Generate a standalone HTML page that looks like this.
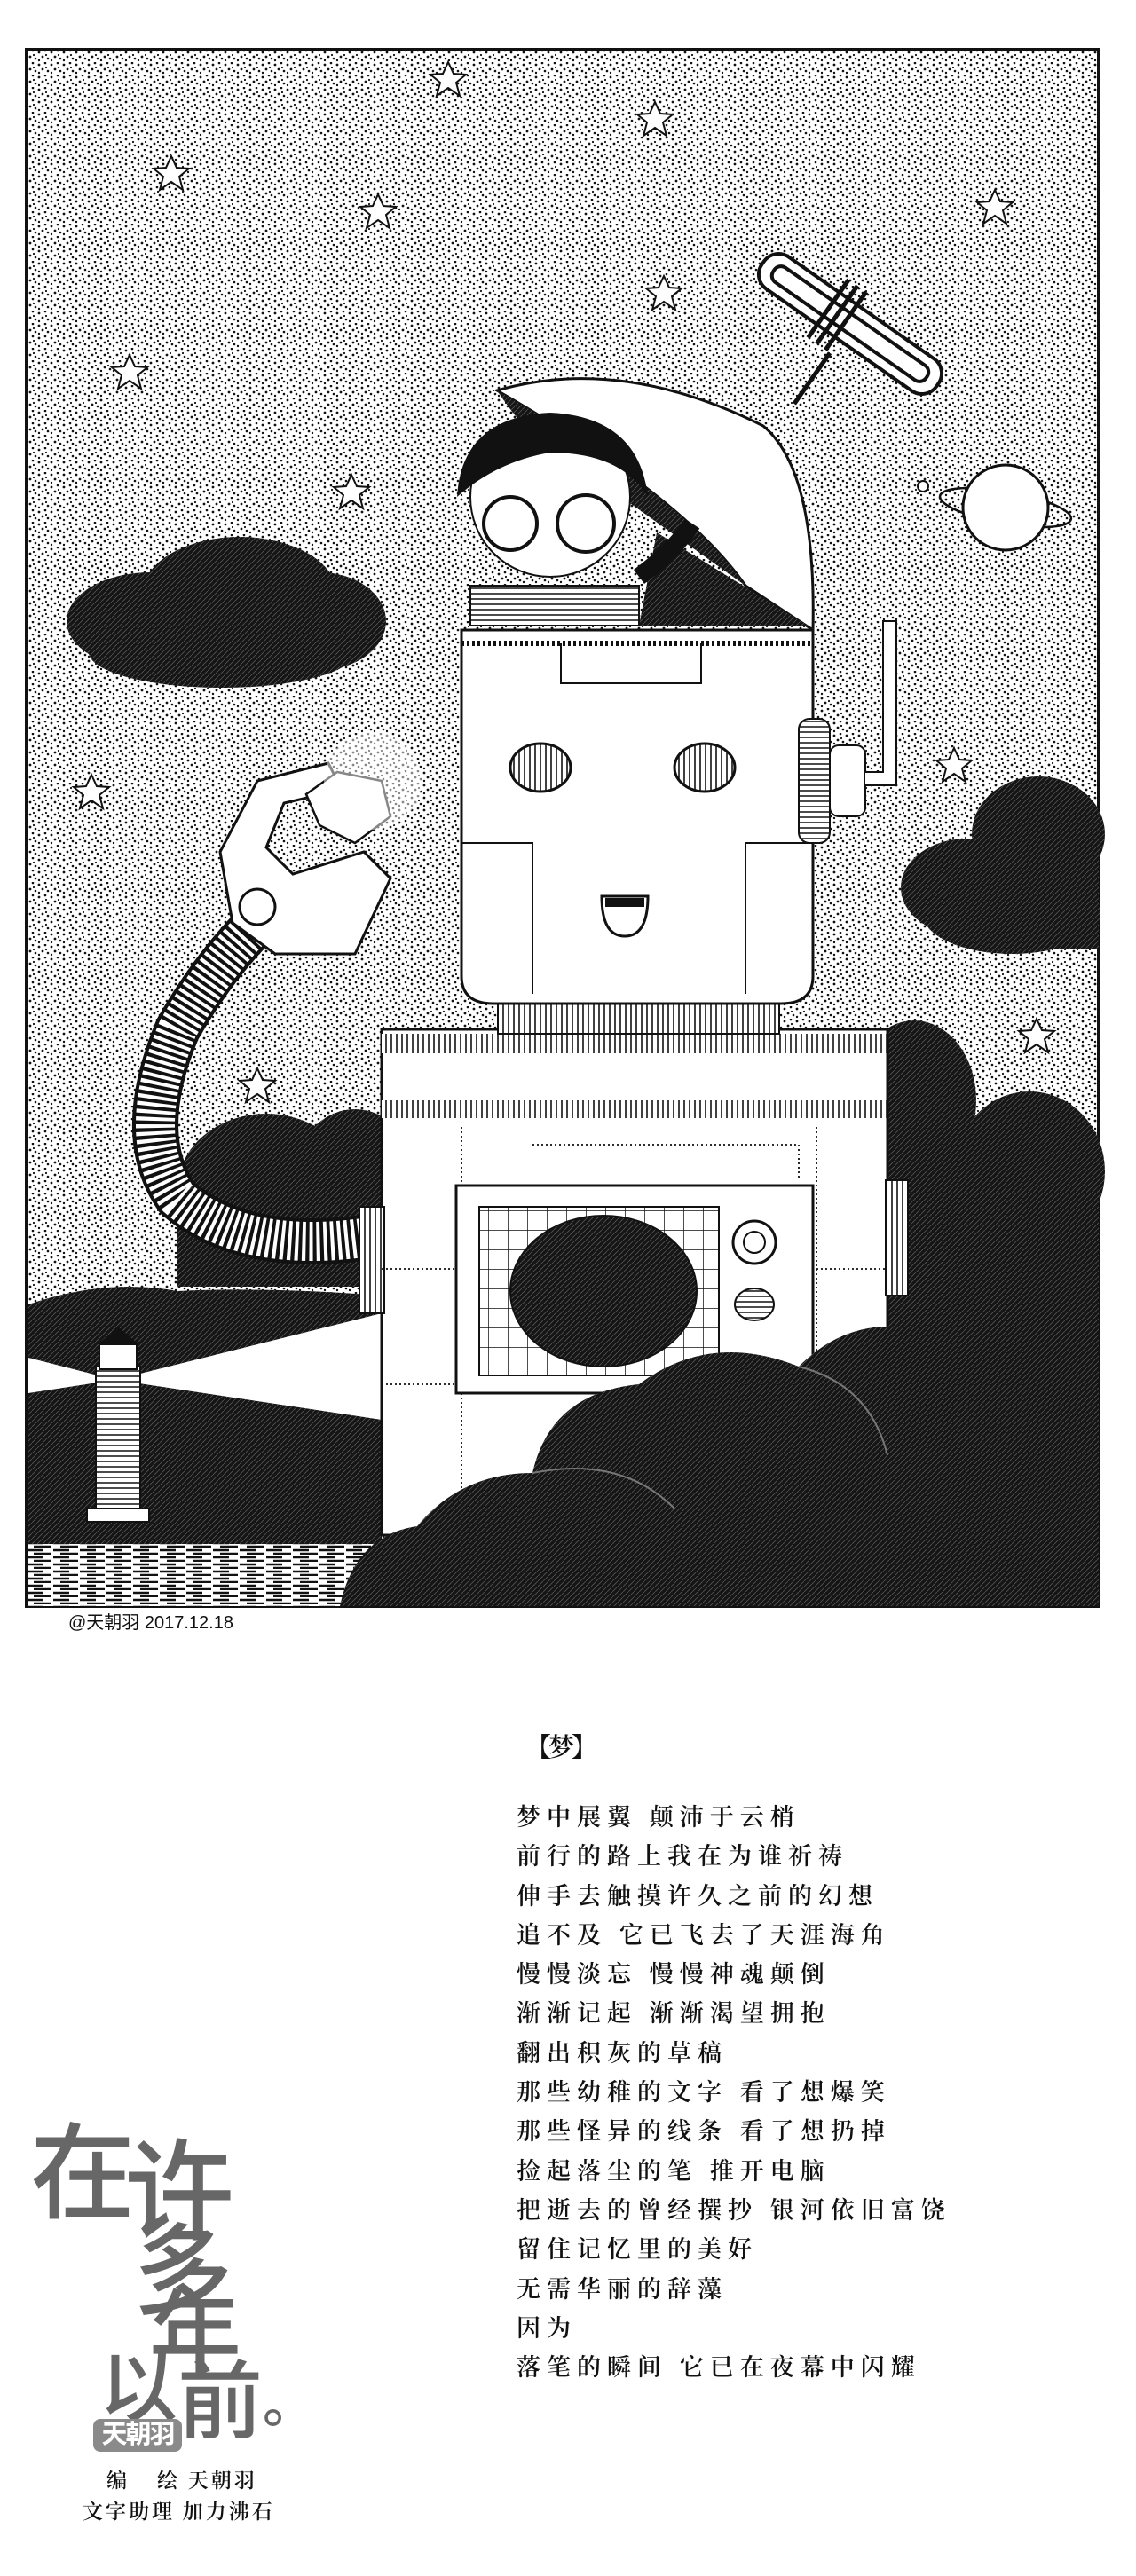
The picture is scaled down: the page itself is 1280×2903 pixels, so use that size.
<!DOCTYPE html>
<html><head><meta charset="utf-8"><style>
html,body{margin:0;padding:0;background:#fff}
body{width:1280px;height:2903px;position:relative;overflow:hidden;font-family:"Liberation Serif","Noto Serif CJK SC",serif;color:#111}
.a{position:absolute;white-space:nowrap}
.poem{position:absolute;left:582px;top:2026px;font-size:27px;line-height:44.3px;letter-spacing:7px;font-weight:600;font-family:"Liberation Serif","Noto Serif CJK SC",serif}
.cal{position:absolute;color:#676767;font-family:"Liberation Sans","Noto Sans CJK SC",sans-serif;font-weight:500;line-height:1}
</style></head><body>
<svg class="a" style="left:0;top:0" width="1280" height="1850" viewBox="0 0 1280 1850">
<defs>
<pattern id="st" width="14" height="14" patternUnits="userSpaceOnUse">
<rect width="14" height="14" fill="#fff"/>
<circle cx="2" cy="3" r="1.4" fill="#111"/><circle cx="9" cy="1" r="1.3" fill="#111"/>
<circle cx="6" cy="8" r="1.4" fill="#111"/><circle cx="12" cy="10" r="1.3" fill="#111"/>
<circle cx="2" cy="12" r="1.2" fill="#111"/><circle cx="10" cy="6" r="1.1" fill="#111"/>
</pattern>
<pattern id="dk" width="6" height="6" patternUnits="userSpaceOnUse">
<rect width="6" height="6" fill="#151515"/><path d="M0 6L6 0" stroke="#555" stroke-width="0.8"/>
</pattern>
<pattern id="wt" width="30" height="8" patternUnits="userSpaceOnUse">
<rect width="30" height="8" fill="#fff"/><path d="M0 3H18M8 7H28" stroke="#111" stroke-width="2.4"/>
</pattern>
<pattern id="hz" width="6" height="6" patternUnits="userSpaceOnUse">
<rect width="6" height="6" fill="#fff"/><path d="M0 3H6" stroke="#111" stroke-width="1.5"/>
</pattern>
<pattern id="vt" width="6" height="6" patternUnits="userSpaceOnUse">
<rect width="6" height="6" fill="#fff"/><path d="M3 0V6" stroke="#111" stroke-width="1.6"/>
</pattern>
<pattern id="gr" width="22" height="22" patternUnits="userSpaceOnUse">
<rect width="22" height="22" fill="#fff"/><path d="M0 0H22M0 0V22" stroke="#111" stroke-width="1.5"/>
</pattern>
<g id="star"><polygon points="0,-20 6,-7 20,-6 9,3 13,18 0,9 -13,18 -9,3 -20,-6 -6,-7" fill="#fff" stroke="#111" stroke-width="2"/></g>
</defs>
<rect x="30" y="56" width="1208" height="1754" fill="url(#st)" stroke="#111" stroke-width="4"/>
<use href="#star" x="505" y="90"/><use href="#star" x="738" y="135"/><use href="#star" x="193" y="196"/>
<use href="#star" x="426" y="239"/><use href="#star" x="1121" y="234"/><use href="#star" x="748" y="331"/>
<use href="#star" x="146" y="420"/><use href="#star" x="396" y="555"/><use href="#star" x="103" y="893"/>
<use href="#star" x="1075" y="863"/><use href="#star" x="290" y="1224"/><use href="#star" x="1168" y="1168"/>
<g fill="url(#dk)">
<ellipse cx="170" cy="700" rx="95" ry="55"/><ellipse cx="270" cy="670" rx="110" ry="65"/><ellipse cx="360" cy="700" rx="75" ry="55"/><ellipse cx="250" cy="735" rx="150" ry="40"/>
<ellipse cx="1090" cy="1000" rx="75" ry="55"/><ellipse cx="1170" cy="940" rx="75" ry="65"/><ellipse cx="1140" cy="1030" rx="100" ry="45"/><rect x="1150" y="920" width="88" height="150"/>
<ellipse cx="1030" cy="1240" rx="70" ry="90"/><ellipse cx="1160" cy="1320" rx="85" ry="90"/><rect x="980" y="1280" width="258" height="260"/>
<ellipse cx="300" cy="1340" rx="100" ry="85"/><ellipse cx="400" cy="1330" rx="70" ry="80"/><rect x="200" y="1330" width="240" height="120"/>
<path d="M32 1470 Q120 1440 200 1455 Q300 1450 430 1460 L430 1740 L32 1740Z"/>
</g>
<polygon points="130,1555 430,1480 430,1600" fill="#fff"/>
<polygon points="130,1555 32,1530 32,1570" fill="#fff"/>
<rect x="32" y="1740" width="390" height="70" fill="url(#wt)"/>
<rect x="108" y="1540" width="50" height="175" fill="url(#hz)" stroke="#111" stroke-width="2"/>
<rect x="112" y="1515" width="42" height="28" fill="#fff" stroke="#111" stroke-width="2"/>
<polygon points="110,1515 133,1495 156,1515" fill="#111"/>
<rect x="98" y="1700" width="70" height="15" fill="#fff" stroke="#111" stroke-width="2"/>
<path d="M440 1390 Q280 1420 200 1350 Q150 1280 200 1160 Q240 1090 290 1040" fill="none" stroke="#111" stroke-width="52"/>
<path d="M440 1390 Q280 1420 200 1350 Q150 1280 200 1160 Q240 1090 290 1040" fill="none" stroke="#fff" stroke-width="44" stroke-dasharray="4 4"/>
<polygon points="248,960 290,880 370,860 385,890 320,905 300,955 330,985 410,960 440,990 400,1075 310,1075 262,1040" fill="#fff" stroke="#111" stroke-width="3"/>
<circle cx="290" cy="1022" r="20" fill="#fff" stroke="#111" stroke-width="3"/>
<polygon points="345,895 380,870 430,880 440,920 400,950 360,930" fill="#fff" stroke="#111" stroke-width="2.5"/>
<circle cx="420" cy="880" r="55" fill="#fff" opacity="0.5"/>
<rect x="430" y="1160" width="570" height="570" fill="#fff" stroke="#111" stroke-width="3"/>
<rect x="430" y="1165" width="570" height="22" fill="url(#vt)"/>
<rect x="430" y="1240" width="570" height="20" fill="url(#vt)"/>
<rect x="405" y="1360" width="28" height="120" fill="url(#vt)" stroke="#111" stroke-width="2"/>
<rect x="998" y="1330" width="25" height="130" fill="url(#vt)" stroke="#111" stroke-width="2"/>
<path d="M520 1270V1720M920 1270V1720M430 1430H520M920 1430H1000M430 1560H520M920 1560H1000M600 1290H900V1330" fill="none" stroke="#111" stroke-width="1.8" stroke-dasharray="2 3"/>
<rect x="514" y="1336" width="402" height="234" fill="#fff" stroke="#111" stroke-width="3"/>
<rect x="540" y="1360" width="270" height="190" fill="url(#gr)" stroke="#111" stroke-width="2"/>
<ellipse cx="680" cy="1455" rx="105" ry="85" fill="url(#dk)" stroke="#111" stroke-width="2"/>
<circle cx="850" cy="1400" r="24" fill="#fff" stroke="#111" stroke-width="3"/><circle cx="850" cy="1400" r="12" fill="none" stroke="#111" stroke-width="2"/>
<ellipse cx="850" cy="1470" rx="22" ry="18" fill="url(#hz)" stroke="#111" stroke-width="2"/>
<rect x="561" y="1120" width="317" height="45" fill="url(#vt)" stroke="#111" stroke-width="2"/>
<path d="M520 710 H916 V1100 Q916 1131 880 1131 H556 Q520 1131 520 1100Z" fill="#fff" stroke="#111" stroke-width="3"/>
<path d="M520 725H916" stroke="#111" stroke-width="6" stroke-dasharray="3 3"/>
<path d="M632 725V770H790V725M520 950H600V1120M916 950H840V1120" fill="none" stroke="#111" stroke-width="2"/>
<ellipse cx="609" cy="865" rx="34" ry="27" fill="url(#vt)" stroke="#111" stroke-width="3"/>
<ellipse cx="794" cy="865" rx="34" ry="27" fill="url(#vt)" stroke="#111" stroke-width="3"/>
<path d="M678 1010 H730 Q730 1055 704 1055 Q678 1055 678 1010Z" fill="#fff" stroke="#111" stroke-width="3"/>
<rect x="682" y="1012" width="44" height="10" fill="#111"/>
<rect x="900" y="810" width="35" height="140" rx="12" fill="url(#hz)" stroke="#111" stroke-width="2"/>
<rect x="935" y="840" width="40" height="80" rx="10" fill="#fff" stroke="#111" stroke-width="2"/>
<path d="M975 870 H995 V700 H1010 V885 H975" fill="#fff" stroke="#111" stroke-width="2"/>
<path d="M560 440 Q700 400 860 480 Q920 530 916 710 L840 660 Q770 560 560 440Z" fill="#fff" stroke="#111" stroke-width="3"/>
<path d="M560 440 Q620 530 700 560 L840 660 Q770 560 560 440Z" fill="url(#dk)"/>
<path d="M740 600 L910 705 L720 705Z" fill="url(#dk)"/>
<circle cx="620" cy="560" r="90" fill="#fff" stroke="#111" stroke-width="2"/>
<path d="M515 560 Q520 470 620 465 Q720 470 730 560 Q700 510 620 510 Q560 520 515 560Z" fill="#111"/>
<circle cx="575" cy="590" r="30" fill="none" stroke="#111" stroke-width="4"/>
<circle cx="660" cy="590" r="32" fill="none" stroke="#111" stroke-width="4"/>
<path d="M530 660 H720 V705 H530Z" fill="url(#hz)" stroke="#111" stroke-width="2"/>
<path d="M720 650 Q760 620 780 590" stroke="#111" stroke-width="20" fill="none"/>
<g transform="translate(958 365) rotate(35)" fill="none" stroke="#111" stroke-width="4">
<rect x="-120" y="-22" width="240" height="44" rx="20" fill="#fff"/>
<rect x="-105" y="-10" width="210" height="20" rx="9"/>
<path d="M-30 -40V40M-18 -40V40M-6 -40V40M0 40V110" stroke-width="5"/>
</g>
<ellipse cx="1133" cy="572" rx="75" ry="18" transform="rotate(10 1133 572)" fill="none" stroke="#111" stroke-width="2.5"/>
<circle cx="1133" cy="572" r="48" fill="#fff" stroke="#111" stroke-width="3"/>
<circle cx="1040" cy="548" r="6" fill="#fff" stroke="#111" stroke-width="2"/>
<path d="M383 1810 Q400 1730 470 1720 Q520 1660 600 1660 Q620 1570 720 1560 Q800 1500 900 1540 Q960 1480 1040 1500 Q1100 1430 1170 1420 Q1220 1400 1238 1395 L1238 1810Z" fill="url(#dk)"/>
<path d="M600 1660 Q700 1640 760 1700 M900 1540 Q980 1560 1000 1640" stroke="#777" stroke-width="2" fill="none"/>
</svg>
<div class="a" style="left:77px;top:1812px;font-size:20px;font-family:'Liberation Sans','Noto Sans CJK SC',sans-serif">@天朝羽 2017.12.18</div>

<div class="a" style="left:592px;top:1947px;font-size:29px;font-weight:600;letter-spacing:-3px">【梦】</div>
<div class="poem">梦中展翼 颠沛于云梢<br>前行的路上我在为谁祈祷<br>伸手去触摸许久之前的幻想<br>追不及 它已飞去了天涯海角<br>慢慢淡忘 慢慢神魂颠倒<br>渐渐记起 渐渐渴望拥抱<br>翻出积灰的草稿<br>那些幼稚的文字 看了想爆笑<br>那些怪异的线条 看了想扔掉<br>捡起落尘的笔 推开电脑<br>把逝去的曾经撰抄 银河依旧富饶<br>留住记忆里的美好<br>无需华丽的辞藻<br>因为<br>落笔的瞬间 它已在夜幕中闪耀</div>

<div class="cal" style="left:34px;top:2392px;font-size:118px">在</div>
<div class="cal" style="left:140px;top:2410px;font-size:124px">许</div>
<div class="cal" style="left:150px;top:2505px;font-size:112px">多</div>
<div class="cal" style="left:168px;top:2580px;font-size:104px">年</div>
<div class="cal" style="left:112px;top:2648px;font-size:88px">以</div>
<div class="cal" style="left:200px;top:2660px;font-size:96px">前</div>
<div class="cal" style="left:296px;top:2680px;font-size:60px">。</div>
<div class="a" style="left:105px;top:2726px;width:100px;height:37px;background:#8a8a8a;border-radius:8px;color:#fff;font-size:29px;line-height:37px;text-align:center;font-family:'Liberation Sans','Noto Sans CJK SC',sans-serif;font-weight:bold;letter-spacing:-2px">天朝羽</div>
<div class="a" style="left:120px;top:2777px;font-size:23px;font-weight:600">编</div>
<div class="a" style="left:177px;top:2777px;font-size:23px;font-weight:600;letter-spacing:3px">绘 天朝羽</div>
<div class="a" style="left:93px;top:2812px;font-size:23px;font-weight:600;letter-spacing:3px">文字助理 加力沸石</div>
</body></html>
